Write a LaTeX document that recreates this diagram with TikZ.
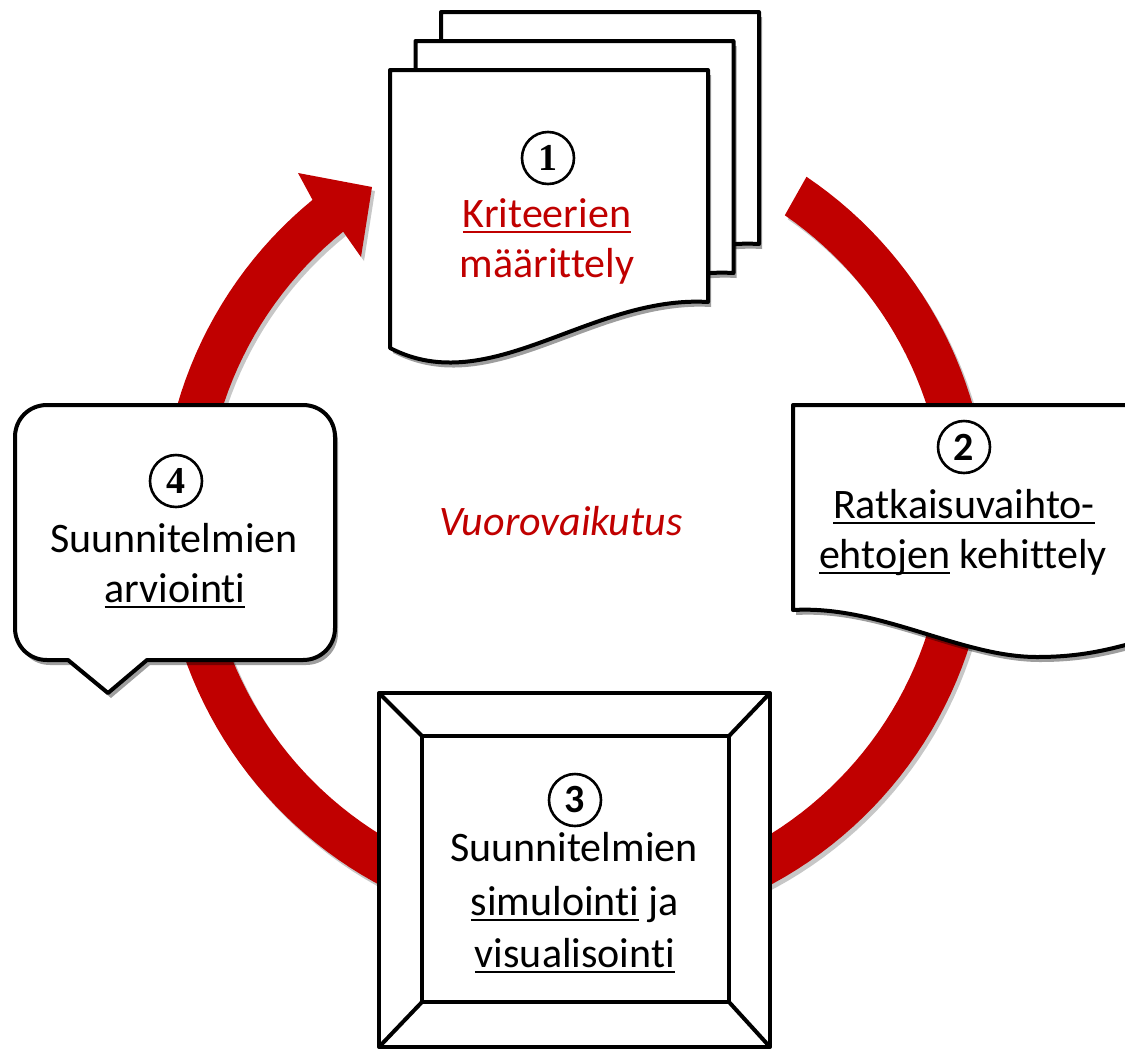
\documentclass[tikz,border=0pt]{standalone}
\usepackage{fontspec}
\setmainfont{Carlito}[Ligatures=NoCommon]
\newfontfamily\numserif{Liberation Serif}
\usetikzlibrary{shadows}
\definecolor{arcred}{HTML}{C00000}
\newcommand\myul[1]{\setbox0\hbox{#1}\rlap{\rule[-6pt]{\wd0}{2.2pt}}\box0\relax}
\tikzset{
  shapeline/.style={draw=black, line width=4pt, fill=white, line join=round},
  shd/.style={drop shadow={shadow xshift=3pt, shadow yshift=-5pt, fill=black, opacity=0.38}},
  txt/.style={anchor=base, inner sep=0pt, font=\fontsize{42}{50}\selectfont},
  num/.style={draw=black, circle, line width=2.6pt, minimum size=52pt, inner sep=0pt},
}
\begin{document}
\begin{tikzpicture}[x=1pt,y=-1pt]
\useasboundingbox (0,0) rectangle (1125,1050);
\clip (0,0) rectangle (1125,1050);

% red cycle arrow: shadow then arrow
\begin{scope}[xshift=3pt, yshift=-4pt]
\fill[black, opacity=0.22]
  plot[variable=\t, domain=0:1, samples=150] ({575+414*cos(56-287.2*\t)},{520-414*sin(56-287.2*\t)})
  -- (298,173) -- (372,187) -- (361,257)
  -- plot[variable=\t, domain=0:1, samples=150] ({575+370*cos(-231.2+287.2*\t)},{520-370*sin(-231.2+287.2*\t)})
  -- cycle;
\end{scope}
\fill[arcred]
  plot[variable=\t, domain=0:1, samples=150] ({575+414*cos(56-287.2*\t)},{520-414*sin(56-287.2*\t)})
  -- (298,173) -- (372,187) -- (361,257)
  -- plot[variable=\t, domain=0:1, samples=150] ({575+370*cos(-231.2+287.2*\t)},{520-370*sin(-231.2+287.2*\t)})
  -- cycle;

% box 1: stacked documents
\foreach \ox/\oy in {441/12, 415.5/41, 390/70}{
  \path[shapeline, shd] (\ox,\oy) -- (\ox+318,\oy) -- (\ox+318,\oy+232)
    .. controls (\ox+200,\oy+225) and (\ox+100,\oy+330) .. (\ox,\oy+278) -- cycle;
}
\node[num, font=\numserif\bfseries\fontsize{38}{38}\selectfont] (n1) at (548,158) {1};
\node[txt, text=arcred] (t1a) at (547,227) {\myul{Kriteerien}};
\node[txt, text=arcred] (t1b) at (547,277) {määrittely};

% box 2: document (mirrored wave)
\path[shapeline, shd] (793,405) -- (1150,405) -- (1150,638)
  .. controls (1110,650) and (1080,657) .. (1037,657)
  .. controls (960,657) and (880,605) .. (793,610) -- cycle;
\node[num, font=\bfseries\fontsize{40}{40}\selectfont] (n2) at (964,447) {2};
\node[txt] (t2a) at (964,518) {\myul{Ratkaisuvaihto-}};
\node[txt] (t2b) at (963,568) {\myul{ehtojen} kehittely};

% box 4: rounded callout
\path[shapeline, shd] (15,437) .. controls (15,419) and (29,405) .. (47,405)
  -- (303,405) .. controls (321,405) and (335,419) .. (335,437)
  -- (335,628) .. controls (335,646) and (321,660) .. (303,660)
  -- (147,660) -- (108,693) -- (68,660) -- (47,660)
  .. controls (29,660) and (15,646) .. (15,628) -- cycle;
\node[num, font=\numserif\bfseries\fontsize{38}{38}\selectfont] (n4) at (176,481) {4};
\node[txt] (t4a) at (174,552) {Suunnitelmien};
\node[txt] (t4b) at (175,602) {\myul{arviointi}};

% box 3: bevel
\path[shapeline] (379,693) rectangle (770,1047);
\draw[line width=4pt, line join=round] (422,736) rectangle (729,1002);
\draw[line width=4pt] (379,693) -- (422,736) (770,693) -- (729,736)
  (379,1047) -- (422,1002) (770,1047) -- (729,1002);
\node[num, font=\bfseries\fontsize{40}{40}\selectfont] (n3) at (575,800) {3};
\node[txt] (t3a) at (574,861) {Suunnitelmien};
\node[txt] (t3b) at (575,915) {\myul{simulointi} ja};
\node[txt] (t3c) at (575,967) {\myul{visualisointi}};

% centre label
\node[txt, text=arcred, font=\itshape\fontsize{42}{50}\selectfont] (center) at (561,535) {Vuorovaikutus};
\end{tikzpicture}
\end{document}
